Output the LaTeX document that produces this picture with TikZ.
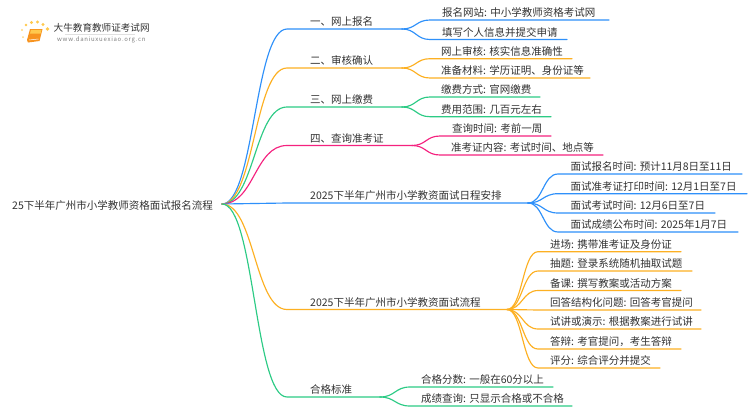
\documentclass[tikz,border=0pt]{standalone}
\usepackage{fontspec}
\setmainfont{Noto Sans CJK SC}
\definecolor{cblue}{HTML}{2E90FA}
\definecolor{corange}{HTML}{FDB022}
\definecolor{cgreen}{HTML}{2CCB85}
\definecolor{cpink}{HTML}{F5227F}
\definecolor{ctext}{HTML}{333333}
\definecolor{bookA}{HTML}{F7931E}
\definecolor{bookB}{HTML}{FFC94D}
\tikzset{
  lbl/.style={anchor=base west,inner sep=0pt,font=\fontsize{10.5}{12}\selectfont,text=ctext},
  conn/.style={line width=1.15pt,line cap=round},
  sundot/.style={circle,fill=#1,inner sep=0pt,minimum size=3.5pt},
}
% name, colour, parent, x, y, end x, text x, text
\newcommand{\brnode}[8]{%
  \coordinate (#1k) at (#4,#5);
  \coordinate (#1e) at (#6,#5);
  \node[lbl] (#1) at (#7,#5-3.2) {#8};
  \draw[conn,#2] (#3) .. controls +({0.5*(#4-\csname px#3\endcsname)},0) and +({-0.5*(#4-\csname px#3\endcsname)},0) .. (#1k) -- (#1e);
}
% declare horizontal positions of the parents
\newcommand{\parentx}[3]{\coordinate (#1) at (#2,#3);\expandafter\gdef\csname px#1\endcsname{#2}}
\begin{document}
\begin{tikzpicture}[x=1pt,y=-1pt]
\useasboundingbox (0,0) rectangle (750,410);
\fill[white] (0,0) rectangle (750,410);

% logo
\node[sundot=bookB!70!white,minimum size=2pt] (d1) at (23,37) {};
\node[sundot=bookB!70!white,minimum size=2.4pt] (d2) at (22,30) {};
\node[sundot=bookB,minimum size=2.8pt] (d3) at (26,25) {};
\node[sundot=bookB,minimum size=3.4pt] (d4) at (31.5,22.5) {};
\node[sundot=bookB,minimum size=3.4pt] (d5) at (37.5,22) {};
\node[sundot=bookB,minimum size=3.4pt] (d6) at (43,24.5) {};
\node[sundot=bookB,minimum size=3.8pt] (d7) at (47.5,29) {};
\fill[bookA] (30,29) -- (42.5,29) -- (39.5,41) -- (28,42.5) -- (27,40) -- cycle;
\fill[bookB] (31,29.8) -- (41.5,29.8) -- (40.6,33.5) -- (30,33.5) -- cycle;
\draw[white,line width=0.5pt] (29,40) -- (38.5,39);
\node[anchor=base west,inner sep=0pt,font=\fontsize{9.6}{12}\selectfont,text=ctext] (logoA) at (53.5,31) {大牛教育教师证考试网};
\fill[black!12] (65,33.5) rectangle (135,34);
\node[anchor=base west,inner sep=0pt,font=\fontsize{6}{8}\selectfont\addfontfeatures{LetterSpace=12},text=black!50] (logoB) at (57,41) {www.daniuxuexiao.org.cn};

% root
\node[lbl] (root) at (12,209.3) {25下半年广州市小学教师资格面试报名流程};
\parentx{r}{222}{204}

% first level
\brnode{a}{cblue}{r}{287}{29}{402}{310}{一、网上报名}
\brnode{b}{corange}{r}{287}{68}{402}{310}{二、审核确认}
\brnode{c}{cgreen}{r}{287}{107}{402}{310}{三、网上缴费}
\brnode{d}{cpink}{r}{287}{145.5}{412}{310}{四、查询准考证}
\brnode{e}{cblue}{r}{287}{203}{528}{310}{2025下半年广州市小学教资面试日程安排}
\brnode{f}{corange}{r}{287}{309.5}{507}{310}{2025下半年广州市小学教资面试流程}
\brnode{g}{cgreen}{r}{287}{397}{380}{310}{合格标准}

\parentx{pa}{402}{29}
\parentx{pb}{402}{68}
\parentx{pc}{402}{107}
\parentx{pd}{412}{145.5}
\parentx{pe}{528}{203}
\parentx{pf}{507}{309.5}
\parentx{pg}{380}{397}

% second level
\brnode{a1}{cblue}{pa}{430}{20}{609}{442}{报名网站: 中小学教师资格考试网}
\brnode{a2}{cblue}{pa}{430}{39.5}{567}{442}{填写个人信息并提交申请}
\brnode{b1}{corange}{pb}{430}{58.7}{572}{441}{网上审核: 核实信息准确性}
\brnode{b2}{corange}{pb}{430}{78}{590}{441}{准备材料: 学历证明、身份证等}
\brnode{c1}{cgreen}{pc}{430}{97}{540}{441}{缴费方式: 官网缴费}
\brnode{c2}{cgreen}{pc}{430}{116.7}{551}{441}{费用范围: 几百元左右}
\brnode{d1x}{cpink}{pd}{440}{136}{551}{452}{查询时间: 考前一周}
\brnode{d2x}{cpink}{pd}{440}{155}{603}{451}{准考证内容: 考试时间、地点等}
\brnode{e1}{cblue}{pe}{558}{174}{742}{570.5}{面试报名时间: 预计11月8日至11日}
\brnode{e2}{cblue}{pe}{558}{193.7}{747}{570.5}{面试准考证打印时间: 12月1日至7日}
\brnode{e3}{cblue}{pe}{558}{213}{715}{570.5}{面试考试时间: 12月6日至7日}
\brnode{e4}{cblue}{pe}{558}{232}{738}{570.5}{面试成绩公布时间: 2025年1月7日}
\brnode{f1}{corange}{pf}{538}{251.7}{681}{550}{进场: 携带准考证及身份证}
\brnode{f2}{corange}{pf}{538}{271}{692}{550}{抽题: 登录系统随机抽取试题}
\brnode{f3}{corange}{pf}{538}{290.5}{681}{550}{备课: 撰写教案或活动方案}
\brnode{f4}{corange}{pf}{538}{310}{701}{550}{回答结构化问题: 回答考官提问}
\brnode{f5}{corange}{pf}{538}{329}{701}{550}{试讲或演示: 根据教案进行试讲}
\brnode{f6}{corange}{pf}{538}{349}{681}{550}{答辩: 考官提问，考生答辩}
\brnode{f7}{corange}{pf}{538}{368}{660}{550}{评分: 综合评分并提交}
\brnode{g1}{cgreen}{pg}{410}{387}{553}{421}{合格分数: 一般在60分以上}
\brnode{g2}{cgreen}{pg}{410}{406}{572}{421}{成绩查询: 只显示合格或不合格}
\end{tikzpicture}
\end{document}
